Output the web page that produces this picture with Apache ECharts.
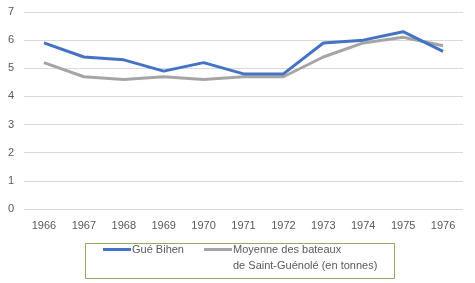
<!DOCTYPE html>
<html><head><meta charset="utf-8">
<script src="https://cdn.jsdelivr.net/npm/echarts@6/dist/echarts.min.js"></script>
<style>html,body{margin:0;padding:0;background:#fff}#c{width:475px;height:283px}</style>
</head><body><div id="c"></div>
<script>
const years = ['1966','1967','1968','1969','1970','1971','1972','1973','1974','1975','1976'];
const gueBihen = [5.9, 5.4, 5.3, 4.9, 5.2, 4.8, 4.8, 5.9, 6.0, 6.3, 5.6];
const moyenne = [5.2, 4.7, 4.6, 4.7, 4.6, 4.7, 4.7, 5.4, 5.9, 6.1, 5.8];
const seriesNames = ['Gué Bihen', 'Moyenne des bateaux\nde Saint-Guénolé (en tonnes)'];
const [firstLine, secondLine] = seriesNames[1].split('\n');

const chart = echarts.init(document.getElementById('c'), null, {renderer:'canvas'});
const font = 'Liberation Sans, Arial, sans-serif';
chart.setOption({
  animation: false,
  textStyle: {fontFamily: font},
  grid: {left: 24, right: 12, top: 12, bottom: 74, containLabel: false},
  xAxis: {
    type: 'category', data: years, boundaryGap: true,
    axisLine: {show: false}, axisTick: {show: false},
    axisLabel: {color: '#595959', fontSize: 11, fontFamily: font, margin: 11}
  },
  yAxis: {
    type: 'value', min: 0, max: 7, interval: 1,
    axisLine: {show: false}, axisTick: {show: false},
    axisLabel: {color: '#595959', fontSize: 11, fontFamily: font, margin: 10},
    splitLine: {lineStyle: {color: '#D9D9D9', width: 1}}
  },
  legend: {
    left: 103, top: 244, icon: 'rect', itemWidth: 28, itemHeight: 3, itemGap: 20,
    padding: 0,
    textStyle: {color: '#595959', fontSize: 11, fontFamily: font, padding: [0,0,0,-4]},
    formatter: n => n.split('\n')[0],
    data: seriesNames
  },
  graphic: [
    {type: 'rect', left: 83, top: 241, shape: {width: 309, height: 35},
     style: {fill: 'none', stroke: '#8FAA66', lineWidth: 1}, silent: true},
    {type: 'text', left: 233, top: 260,
     style: {text: secondLine, fill: '#595959', font: '11px ' + font}}
  ],
  series: [
    {name: seriesNames[0], type: 'line', data: gueBihen, symbol: 'none',
     lineStyle: {color: '#4472C4', width: 3}, itemStyle: {color: '#4472C4'}, z: 3},
    {name: seriesNames[1], type: 'line', data: moyenne, symbol: 'none',
     lineStyle: {color: '#A5A5A5', width: 3}, itemStyle: {color: '#A5A5A5'}, z: 2}
  ]
});
</script></body></html>
